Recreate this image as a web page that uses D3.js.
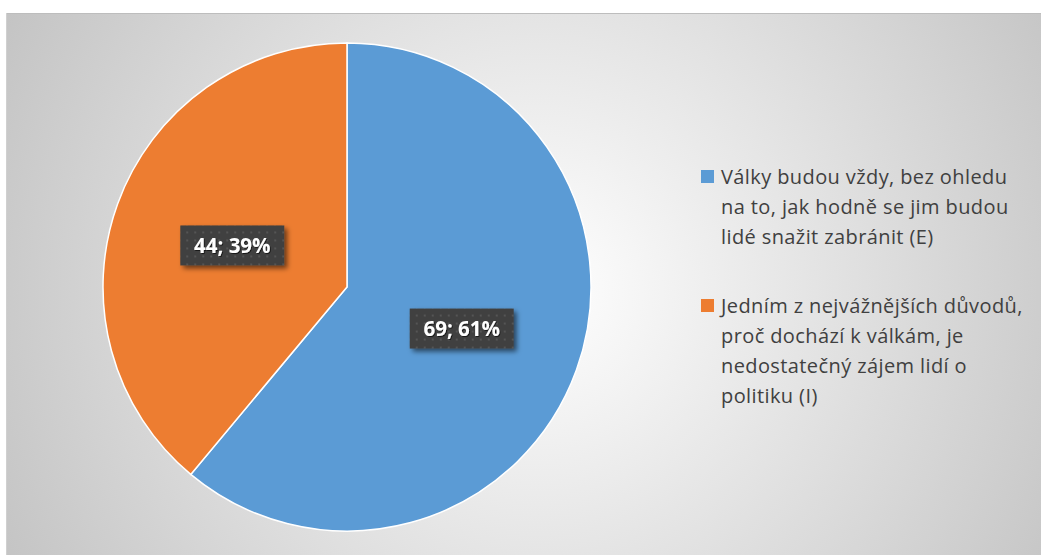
<!DOCTYPE html>
<html>
<head>
<meta charset="utf-8">
<script src="https://cdn.jsdelivr.net/npm/d3@7"></script>
<style>
  body { margin: 0; background: #fff; }
  svg { display: block; }
</style>
</head>
<body>
<div id="viz_container"></div>
<script>
// data
const categories = [
  "Války budou vždy, bez ohledu na to, jak hodně se jim budou lidé snažit zabránit (E)",
  "Jedním z nejvážnějších důvodů, proč dochází k válkám, je nedostatečný zájem lidí o politiku (I)"
];
// legend text split into lines as in the original
const legendLines = [
  ["Války budou vždy, bez ohledu", "na to, jak hodně se jim budou", "lidé snažit zabránit (E)"],
  ["Jedním z nejvážnějších důvodů,", "proč dochází k válkám, je", "nedostatečný zájem lidí o", "politiku (I)"]
];
const values = [69, 44];
const percents = [61, 39];
const colors = ["#5b9bd5", "#ed7d31"];

const W = 1041, H = 555;
const svg = d3.select("#viz_container").append("svg")
  .attr("width", W).attr("height", H)
  .style("font-family", "'Open Sans', sans-serif");

const defs = svg.append("defs");

// background gradient
const bg = defs.append("radialGradient").attr("id", "bg")
  .attr("gradientUnits", "userSpaceOnUse")
  .attr("cx", 540).attr("cy", 290).attr("r", 620);
bg.append("stop").attr("offset", "0%").attr("stop-color", "#ffffff");
bg.append("stop").attr("offset", "100%").attr("stop-color", "#c2c2c2");

// dotted pattern for the data labels
const pat = defs.append("pattern").attr("id", "dots")
  .attr("patternUnits", "userSpaceOnUse").attr("width", 8).attr("height", 8);
pat.append("rect").attr("width", 8).attr("height", 8).attr("fill", "#3f3f3f");
pat.append("rect").attr("x", 2).attr("y", 2).attr("width", 2).attr("height", 2).attr("fill", "#555555");

const shadow = defs.append("filter").attr("id", "shadow")
  .attr("x", "-20%").attr("y", "-20%").attr("width", "150%").attr("height", "160%");
shadow.append("feDropShadow").attr("dx", 3).attr("dy", 3).attr("stdDeviation", 2.5)
  .attr("flood-color", "#000").attr("flood-opacity", 0.55);

const txtShadow = defs.append("filter").attr("id", "tshadow");
txtShadow.append("feDropShadow").attr("dx", 1).attr("dy", 1).attr("stdDeviation", 0.6)
  .attr("flood-color", "#000").attr("flood-opacity", 0.6);

// chart area
svg.append("rect")
  .attr("x", 6).attr("y", 13).attr("width", W - 6).attr("height", H - 13)
  .attr("fill", "url(#bg)");
svg.append("line")
  .attr("x1", 6).attr("x2", W).attr("y1", 13.5).attr("y2", 13.5)
  .attr("stroke", "#bdbdbd").attr("stroke-width", 1);
svg.append("line")
  .attr("x1", 6.5).attr("x2", 6.5).attr("y1", 13).attr("y2", H)
  .attr("stroke", "#d0d0d0").attr("stroke-width", 1);

// pie
const cx = 347, cy = 287, radius = 244;
const pie = d3.pie().sort(null).value(d => d);
const arcs = pie(values);
const arc = d3.arc().innerRadius(0).outerRadius(radius);

const g = svg.append("g").attr("transform", `translate(${cx},${cy})`);
g.selectAll("path")
  .data(arcs)
  .join("path")
    .attr("d", arc)
    .attr("fill", (d, i) => colors[i])
    .attr("stroke", "#ffffff")
    .attr("stroke-width", 1.5);

// data labels
const labelArc = d3.arc().innerRadius(radius * 0.5).outerRadius(radius * 0.5);
const labels = g.selectAll("g.lbl")
  .data(arcs)
  .join("g")
    .attr("class", "lbl")
    .attr("transform", d => {
      const c = labelArc.centroid(d);
      return `translate(${c[0]},${c[1]})`;
    });

labels.append("rect")
  .attr("x", -52).attr("y", -20).attr("width", 104).attr("height", 40)
  .attr("fill", "url(#dots)")
  .attr("filter", "url(#shadow)");

labels.append("text")
  .attr("text-anchor", "middle")
  .attr("dy", "0.36em")
  .attr("fill", "#ffffff")
  .attr("font-weight", "bold")
  .attr("font-size", "20.5px")
  .attr("filter", "url(#tshadow)")
  .text((d, i) => `${values[i]}; ${percents[i]}%`);

// legend
const legendX = 701, lineH = 30;
const legendTops = [177, 306];

const legend = svg.append("g");
categories.forEach((cat, i) => {
  const item = legend.append("g")
    .attr("transform", `translate(${legendX},${legendTops[i]})`);
  item.append("title").text(cat);
  item.append("rect")
    .attr("x", 0).attr("y", -7).attr("width", 13).attr("height", 13)
    .attr("fill", colors[i]);
  item.selectAll("text")
    .data(legendLines[i])
    .join("text")
      .attr("x", 20)
      .attr("y", (d, j) => j * lineH)
      .attr("dy", "0.35em")
      .attr("fill", "#404040")
      .attr("font-size", "20px")
      .attr("letter-spacing", "0.4px")
      .text(d => d);
});
</script>
</body>
</html>
